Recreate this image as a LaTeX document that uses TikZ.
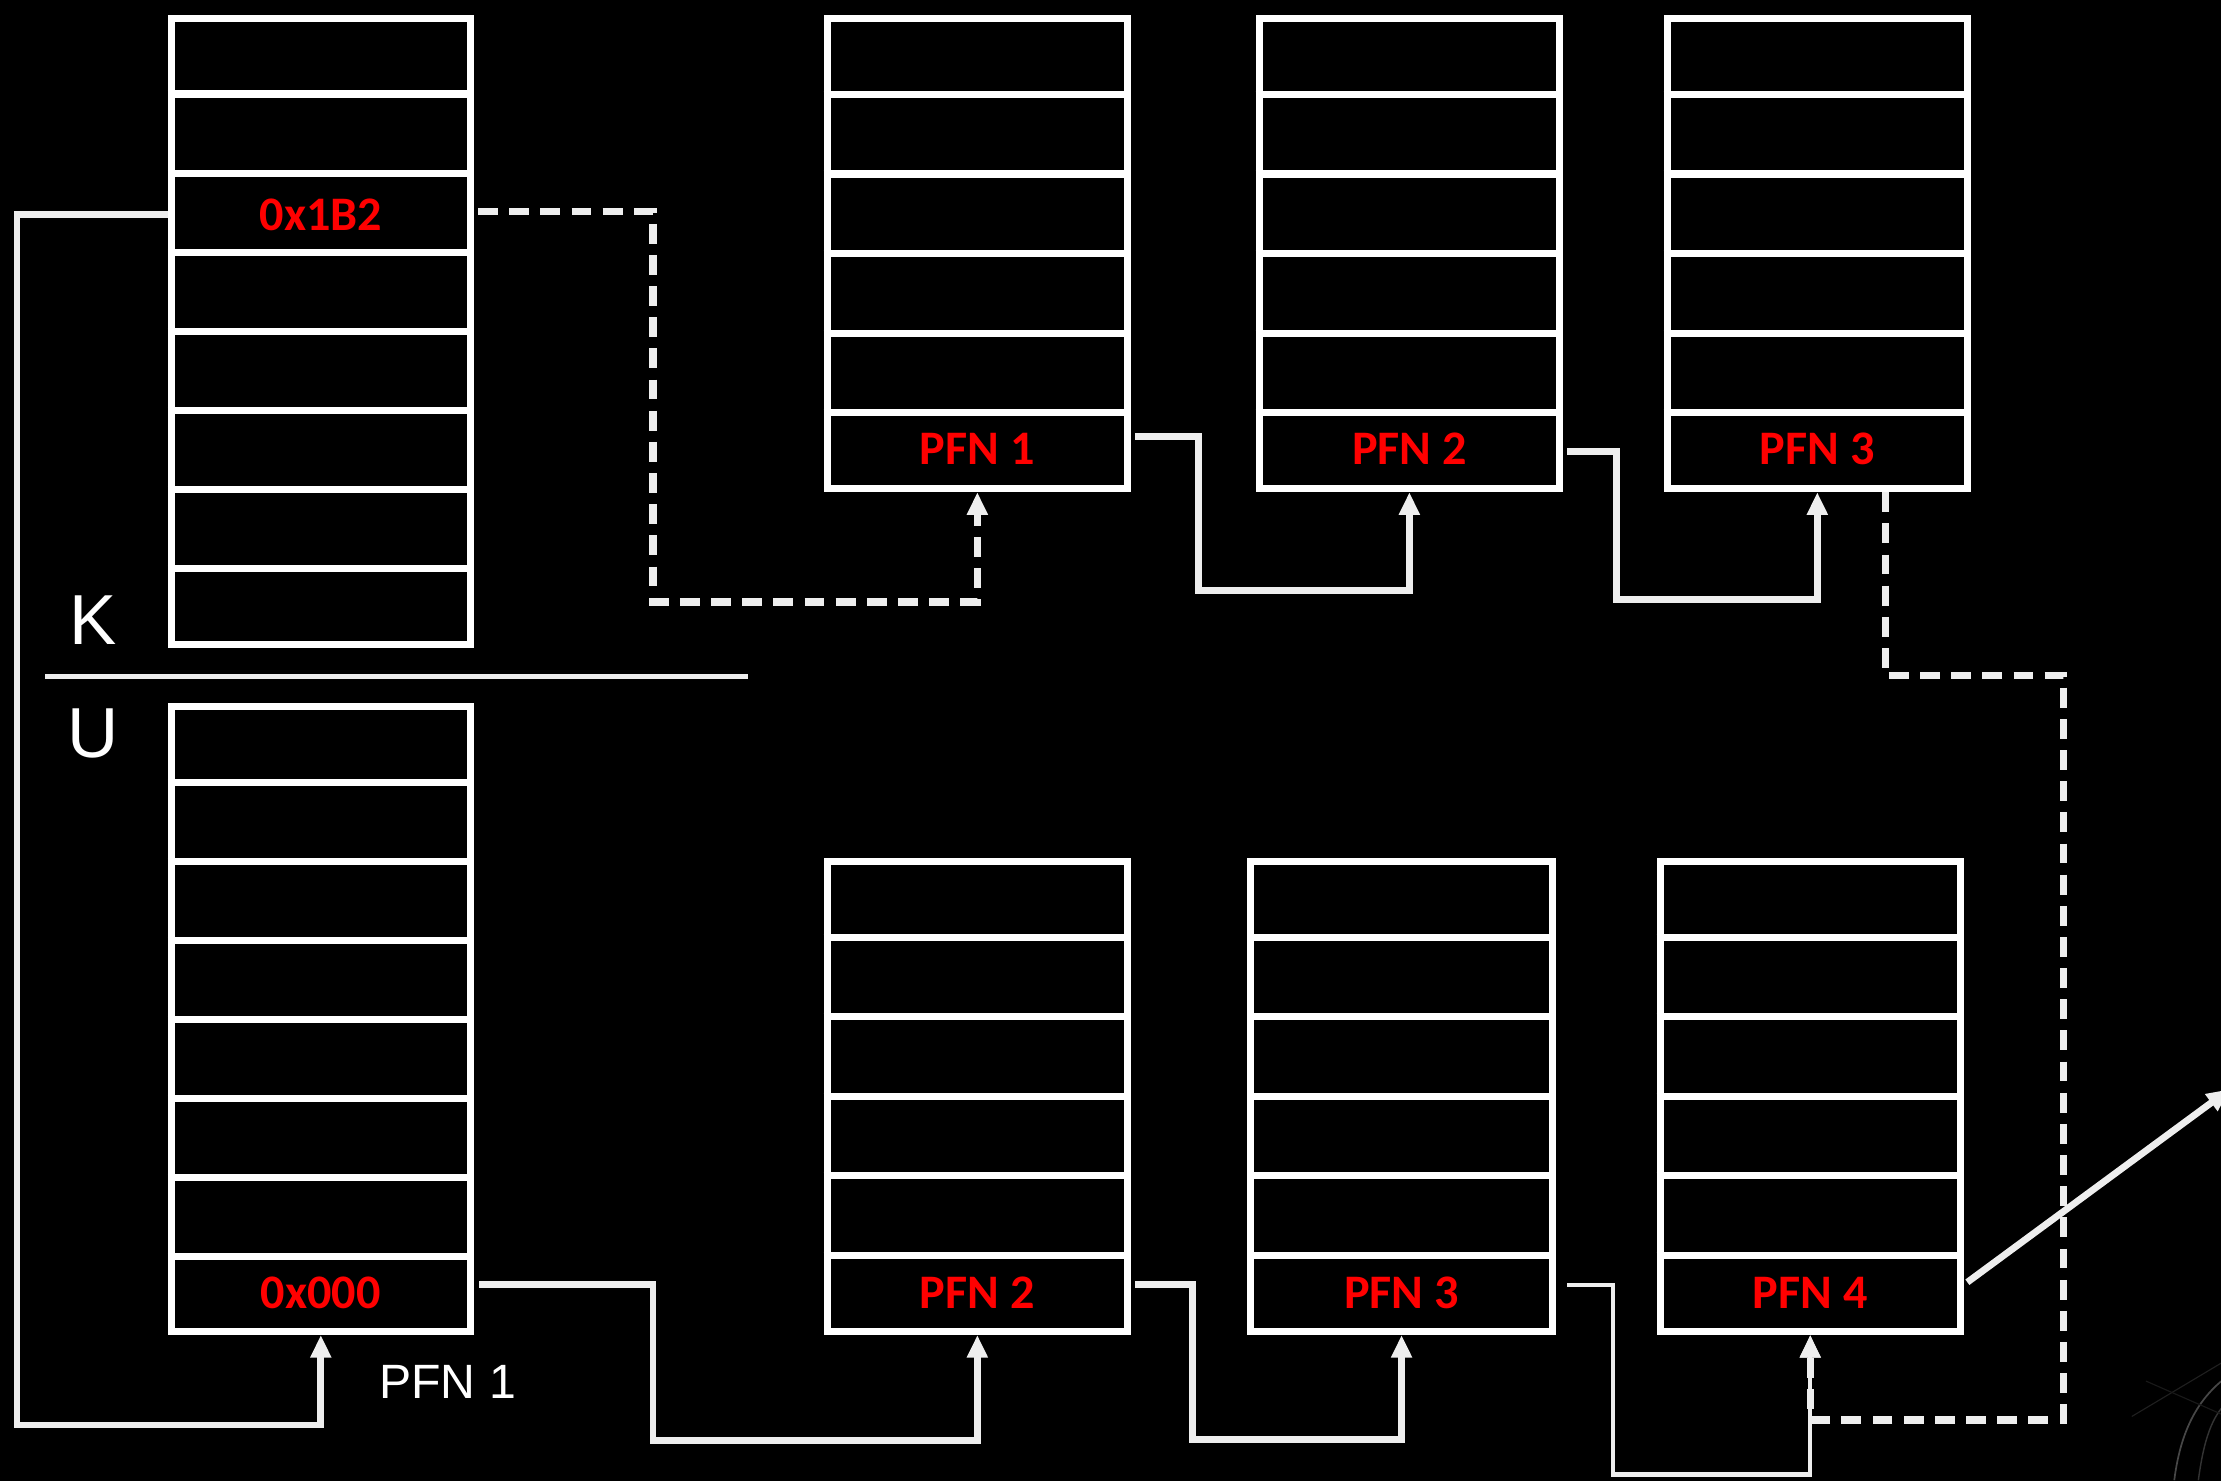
\documentclass[tikz,border=0pt]{standalone}
\usepackage{fontspec}
\setmainfont{Liberation Sans}
\newfontfamily\lblfont{Carlito}
\usetikzlibrary{arrows.meta,calc}
\definecolor{conncol}{HTML}{EEEEEE}
\definecolor{pfnred}{HTML}{FF0000}
\tikzset{
  memtbl/.style={draw=white, line width=5pt, rectangle, inner sep=0pt, outer sep=auto, fill=black},
  divline/.style={draw=white, line width=5pt},
  redlbl/.style={text=pfnred, font=\lblfont\bfseries\fontsize{34}{40}\selectfont, inner sep=0pt},
  sidelbl/.style={text=white, font=\fontsize{50}{60}\selectfont, inner sep=0pt},
  plainlbl/.style={text=white, font=\fontsize{34}{40}\selectfont, inner sep=0pt},
  conn/.style={draw=conncol, line width=4.8pt, line join=miter, -{Triangle[length=16pt,width=14pt]}},
  thinconn/.style={draw=conncol, line width=3pt, -{Triangle[length=16pt,width=14pt]}},
  dashconn/.style={draw=conncol, line width=5pt, dash pattern=on 14pt off 8pt, -{Triangle[length=16pt,width=14pt]}},
}
\begin{document}
\begin{tikzpicture}[x=1pt,y=-1pt]
\useasboundingbox (0,0) rectangle (1568,1045);
\fill[black] (-10,-10) rectangle (1578,1055);
\clip (0,0) rectangle (1568,1045);

% faint background swirl (bottom right)
\draw[white!28!black, line width=1.2pt] (1535,1045) .. controls (1540,1005) and (1555,985) .. (1572,972);
\draw[white!20!black, line width=1pt] (1552,1045) .. controls (1556,1015) and (1562,1000) .. (1572,990);
\draw[white!12!black, line width=0.8pt] (1505,1000) -- (1572,960);
\draw[white!10!black, line width=0.8pt] (1515,975) -- (1572,1000);

% tables
\node[memtbl, minimum width=211pt, minimum height=442pt] (K) at (226.5,234) {};
\node[memtbl, minimum width=211pt, minimum height=441pt] (U) at (226.5,719.5) {};
\node[memtbl, minimum width=212pt, minimum height=332pt] (T1) at (690,179) {};
\node[memtbl, minimum width=212pt, minimum height=332pt] (T2) at (995,179) {};
\node[memtbl, minimum width=212pt, minimum height=332pt] (T3) at (1283,179) {};
\node[memtbl, minimum width=212pt, minimum height=332pt] (B2) at (690,774) {};
\node[memtbl, minimum width=213pt, minimum height=332pt] (B3) at (989.5,774) {};
\node[memtbl, minimum width=212pt, minimum height=332pt] (B4) at (1278,774) {};

% row dividers
\foreach \t in {K,U}{
  \foreach \i in {1,...,7}{
    \draw[divline] ($(\t.north west)!\i/8!(\t.south west)$) -- ($(\t.north east)!\i/8!(\t.south east)$);
  }
}
\foreach \t in {T1,T2,T3,B2,B3,B4}{
  \foreach \i in {1,...,5}{
    \draw[divline] ($(\t.north west)!\i/6!(\t.south west)$) -- ($(\t.north east)!\i/6!(\t.south east)$);
  }
}

% cell labels
\node[redlbl] (k3) at (226.5,151.5) {0x1B2};
\node[redlbl] (u8) at (226.5,912.5) {0x000};
\node[redlbl] (p1) at (690,317) {PFN 1};
\node[redlbl] (p2) at (995,317) {PFN 2};
\node[redlbl] (p3) at (1283,317) {PFN 3};
\node[redlbl] (b2) at (690,912.5) {PFN 2};
\node[redlbl] (b3) at (989.5,912.5) {PFN 3};
\node[redlbl] (b4) at (1278,912.5) {PFN 4};

% K / U split
\node[sidelbl] (klbl) at (66,438) {K};
\node[sidelbl] (ulbl) at (66,518) {U};
\coordinate (splitL) at (32,477.5);
\coordinate (splitR) at (528,477.5);
\draw[draw=conncol, line width=3.5pt] (splitL) -- (splitR);

\node[plainlbl] (pfnone) at (316,975.5) {PFN 1};

% connectors
\draw[conn] (K.west |- k3) -| (12,1006) -| (U.south);
\draw[dashconn, shorten <=3pt] ([yshift=2pt]K.east |- k3) -| (461,425) -| (T1.south);
\draw[conn, shorten <=3pt] ([yshift=9pt]T1.east |- p1) -| (846,417) -| (T2.south);
\draw[conn, shorten <=3pt] ([yshift=-2pt]T2.east |- p2) -| (1141,423) -| (T3.south);
\coordinate (d1) at (1457,477);
\draw[dashconn] ([xshift=48pt]T3.south) |- (d1) |- ([yshift=-60pt]B4.south) -- (B4.south);
\draw[conn, shorten <=4pt] ([yshift=5.5pt]U.east |- u8) -| (461,1017) -| (B2.south);
\draw[conn, shorten <=3pt] ([yshift=5.5pt]B2.east |- b2) -| (842,1016) -| (B3.south);
\draw[thinconn, shorten <=8pt] ([yshift=5.5pt]B3.east |- b3) -| (1139,1041) -| (B4.south);
\coordinate (offright) at (1574,769);
\draw[conn, shorten <=3pt] ([yshift=5.5pt]B4.east |- b4) -- (offright);
\end{tikzpicture}
\end{document}
